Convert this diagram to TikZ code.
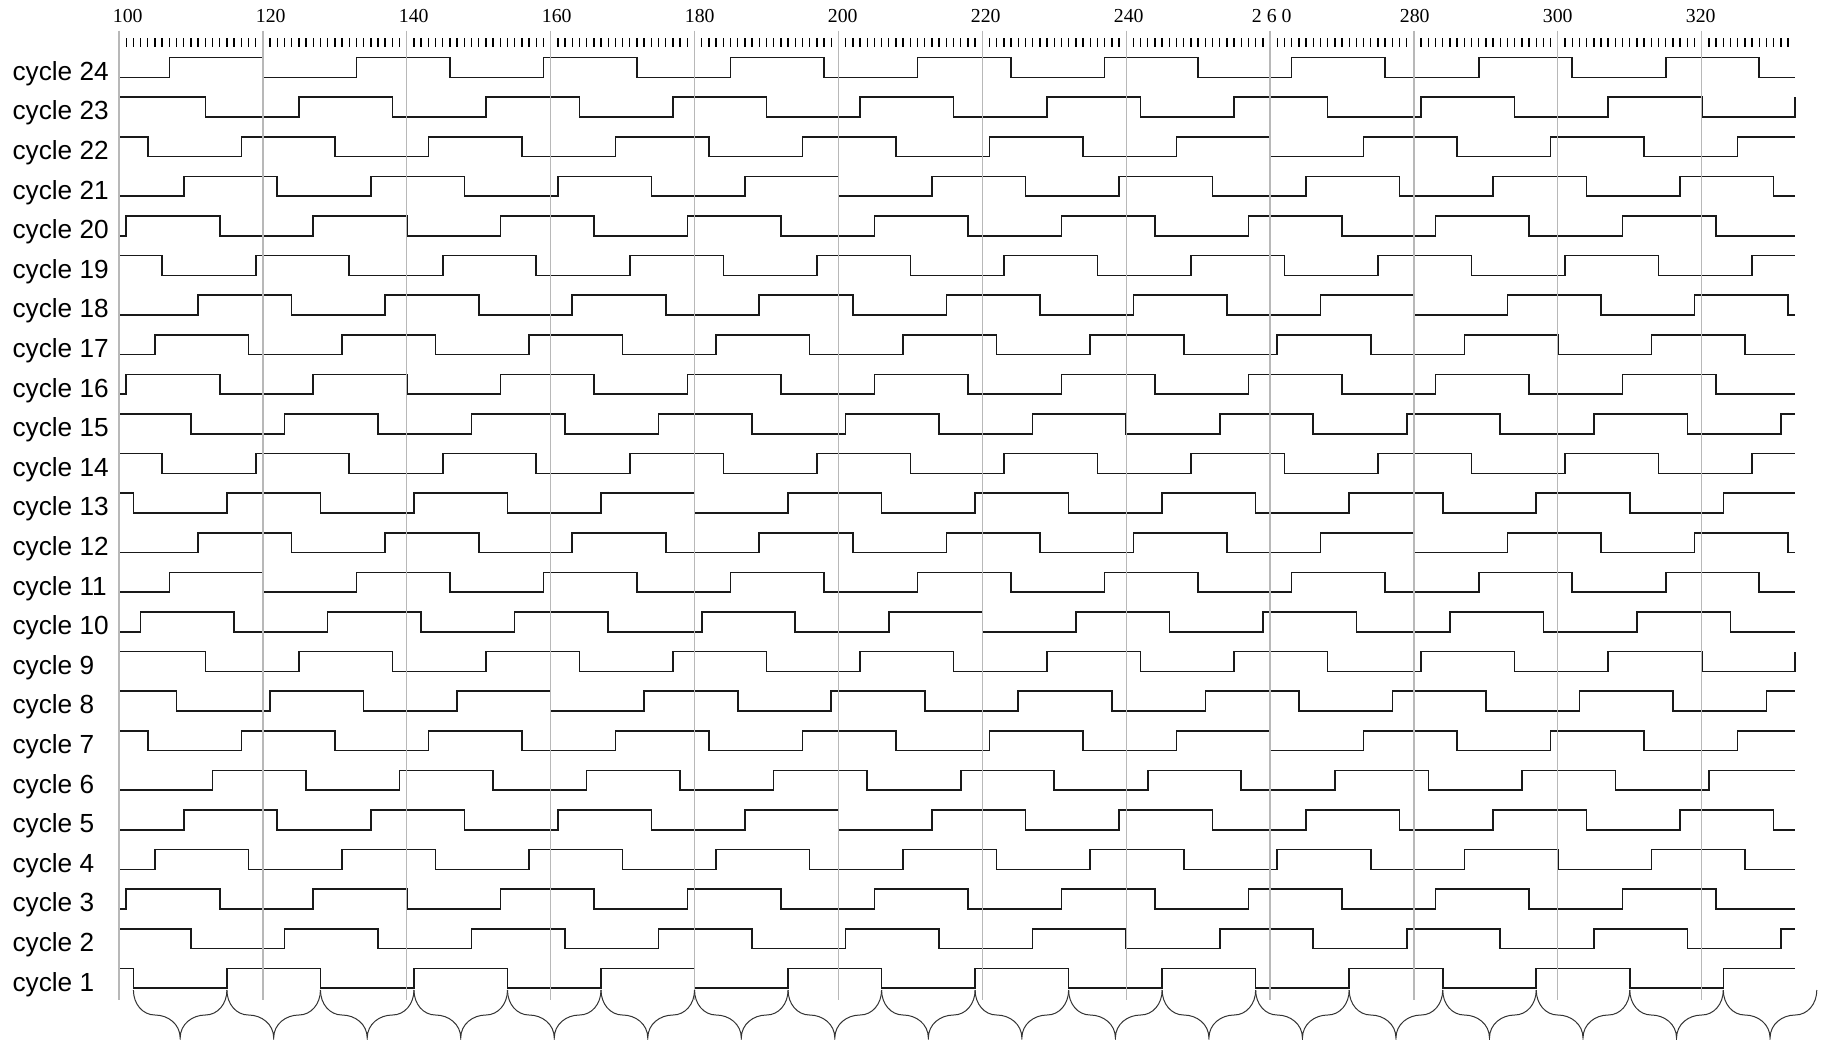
\documentclass[tikz,border=0pt]{standalone}
\usepackage{fontspec}
\setmainfont{Liberation Serif}
\newfontfamily\cyclefont{Liberation Sans}
\usepackage{tikz}

\begin{document}
\begin{tikzpicture}[
    x=3.597pt,
    y=-0.5pt,
    line cap=butt,
    line join=miter,
    wave/.style={draw=black!90, line width=0.8pt},
    guide/.style={draw=black!28, line width=0.65pt},
    tickmark/.style={draw=black, line width=0.7pt},
    brace/.style={draw=black!80, line width=0.5pt},
    cyc/.style={font=\cyclefont\fontsize{13.1pt}{15pt}\selectfont, inner sep=0pt, anchor=base west},
    num/.style={font=\fontsize{9.9pt}{12pt}\selectfont, inner sep=0pt, anchor=base}
]

% Parametri
\def\tstart{100}
\def\tend{333}
\def\halfp{13}
\def\ybot{968.3}
\def\rowstep{39.6}
\def\amp{19.8}

\useasboundingbox (83.458,0) rectangle (337.003,1039);

% Segnali
\foreach \n/\lv/\tf in {1/1/102, 2/1/110, 3/0/101, 4/0/105, 5/0/109, 6/0/113,
    7/1/104, 8/1/108, 9/1/112, 10/0/103, 11/0/107, 12/0/111,
    13/1/102, 14/1/106, 15/1/110, 16/0/101, 17/0/105, 18/0/111,
    19/1/106, 20/0/101, 21/0/109, 22/1/104, 23/1/112, 24/0/107}{
    \pgfmathsetmacro\yh{\ybot-(\n-1)*\rowstep}
    \pgfmathtruncatemacro\jmax{floor((\tend-\tf)/\halfp)}
    \pgfmathsetmacro\yend{\yh+\amp*mod(\lv+\jmax,2)}
    \node[cyc] (c\n) at (85.15,{\yh+\amp+3}) {cycle \n};
    \draw[wave] (\tstart,{\yh+\amp*(1-\lv)})
        foreach \j in {0,...,\jmax}{ -| ({\tf+\halfp*\j},{\yh+\amp*mod(\lv+\j,2)}) }
        -- (\tend,\yend);
}

% Linee verticali
\foreach \g in {100,120,...,320}
    \draw[guide] (\g,30.7) -- (\g,1000);

% Righello
\foreach \tk in {101,...,332}{
    \pgfmathtruncatemacro\r{mod(\tk,20)}
    \ifnum\r>0 \draw[tickmark] (\tk,38.3) -- (\tk,47.3); \fi
}
\foreach \lab [count=\i from 0] in {100,120,140,160,180,200,220,240,2 6 0,280,300,320}
    \node[num] (n\i) at ({101.21+19.878*\i},22.7) {\lab};

% Graffe
\foreach \j in {0,...,17}{
    \pgfmathsetmacro\xb{102+\halfp*\j}
    \draw[brace] (\xb,990) .. controls (\xb,1004) and ({\xb+1.3},1015) .. ({\xb+3},1015)
        .. controls ({\xb+4.8},1015) and ({\xb+6.5},1024) .. ({\xb+6.5},1038)
        .. controls ({\xb+6.5},1024) and ({\xb+8.2},1015) .. ({\xb+10},1015)
        .. controls ({\xb+11.7},1015) and ({\xb+13},1004) .. ({\xb+13},990);
}

\end{tikzpicture}
\end{document}
